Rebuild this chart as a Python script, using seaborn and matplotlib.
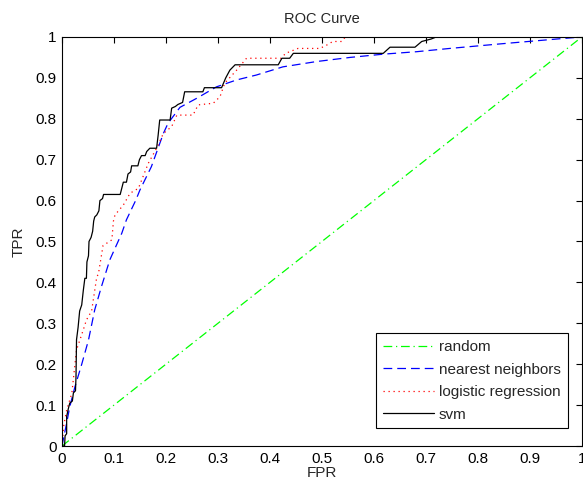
import numpy as np
import pandas as pd
import matplotlib
matplotlib.use("Agg")
import matplotlib.pyplot as plt
import seaborn as sns

# ROC points
random_fpr = [0.0, 0.5, 1.0]
random_tpr = [0.0, 0.5, 1.0]

nn_fpr = [0.0, 0.009, 0.015, 0.025, 0.038, 0.051, 0.063, 0.076, 0.092, 0.115, 0.124,
          0.142, 0.15, 0.172, 0.195, 0.204, 0.227, 0.259, 0.297, 0.336, 0.374, 0.425,
          0.49, 0.554, 0.618, 0.682, 0.746, 0.842, 0.906, 0.97, 1.0]
nn_tpr = [0.0, 0.056, 0.096, 0.145, 0.2, 0.259, 0.333, 0.39, 0.455, 0.52, 0.553,
          0.601, 0.626, 0.683, 0.764, 0.789, 0.828, 0.85, 0.878, 0.895, 0.907, 0.927,
          0.94, 0.95, 0.958, 0.964, 0.972, 0.983, 0.99, 0.997, 1.0]

lr_fpr = [0.0, 0.002, 0.003, 0.009, 0.019, 0.025, 0.028, 0.041, 0.047, 0.057, 0.067,
          0.07, 0.079, 0.096, 0.099, 0.102, 0.118, 0.131, 0.147, 0.166, 0.182, 0.195,
          0.211, 0.221, 0.252, 0.262, 0.291, 0.304, 0.313, 0.336, 0.355, 0.422, 0.43,
          0.454, 0.496, 0.509, 0.521, 0.538, 0.545, 1.0]
lr_tpr = [0.0, 0.03, 0.047, 0.088, 0.129, 0.2, 0.235, 0.284, 0.308, 0.33, 0.414,
          0.42, 0.49, 0.504, 0.55, 0.565, 0.589, 0.618, 0.63, 0.691, 0.728, 0.764,
          0.781, 0.809, 0.809, 0.834, 0.838, 0.854, 0.887, 0.919, 0.948, 0.948, 0.96,
          0.972, 0.972, 0.98, 0.989, 0.989, 1.0, 1.0]

svm_fpr = [0.0, 0.005, 0.006, 0.009, 0.009, 0.012, 0.015, 0.02, 0.022, 0.026, 0.027,
           0.028, 0.031, 0.034, 0.038, 0.041, 0.044, 0.047, 0.048, 0.051, 0.052, 0.056,
           0.059, 0.061, 0.063, 0.067, 0.071, 0.073, 0.078, 0.08, 0.112, 0.115, 0.118,
           0.124, 0.127, 0.132, 0.134, 0.146, 0.149, 0.153, 0.16, 0.163, 0.169, 0.182,
           0.185, 0.188, 0.208, 0.211, 0.218, 0.223, 0.232, 0.236, 0.271, 0.274, 0.307,
           0.315, 0.323, 0.333, 0.416, 0.423, 0.438, 0.445, 0.618, 0.631, 0.679, 0.692,
           0.71, 0.72, 1.0]
svm_tpr = [0.0, 0.0, 0.025, 0.03, 0.072, 0.09, 0.105, 0.11, 0.13, 0.135, 0.17,
           0.26, 0.29, 0.33, 0.345, 0.38, 0.41, 0.41, 0.45, 0.465, 0.5, 0.51,
           0.525, 0.55, 0.56, 0.565, 0.575, 0.6, 0.605, 0.615, 0.615, 0.63, 0.645,
           0.645, 0.665, 0.67, 0.685, 0.685, 0.7, 0.71, 0.71, 0.72, 0.728, 0.728,
           0.76, 0.797, 0.797, 0.826, 0.83, 0.835, 0.84, 0.866, 0.866, 0.876, 0.876,
           0.9, 0.919, 0.932, 0.932, 0.948, 0.948, 0.96, 0.96, 0.975, 0.975, 0.989,
           0.995, 1.0, 1.0]

tick_labels = ["0", "0.1", "0.2", "0.3", "0.4", "0.5", "0.6", "0.7", "0.8", "0.9", "1"]

sns.set_style("white")
plt.rcParams['font.family'] = ['Liberation Sans', 'DejaVu Sans']

fig = plt.figure(figsize=(5.83, 4.86), dpi=100)
ax = fig.add_axes([0.1063, 0.0823, 0.8917, 0.8416])

curves = [
    ("random", random_fpr, random_tpr, "#00ff00", (0, (7, 3, 1, 3))),
    ("nearest neighbors", nn_fpr, nn_tpr, "#0000ff", (0, (7, 4))),
    ("logistic regression", lr_fpr, lr_tpr, "#ff0000", (0, (1, 3))),
    ("svm", svm_fpr, svm_tpr, "#000000", "-"),
]
for name, fx, ty, col, ls in curves:
    df = pd.DataFrame({"FPR": fx, "TPR": ty})
    sns.lineplot(data=df, x="FPR", y="TPR", ax=ax, sort=False, estimator=None,
                 color=col, linestyle=ls, linewidth=0.9, label=name)

ax.set_xlim(0, 1)
ax.set_ylim(0, 1)
ax.set_xticks(np.arange(0, 1.01, 0.1))
ax.set_yticks(np.arange(0, 1.01, 0.1))
ax.set_xticklabels(tick_labels)
ax.set_yticklabels(tick_labels)
ax.tick_params(direction="in", length=4, width=0.8, top=True, right=True,
               labelsize=11, colors="#000000", pad=4)
for s in ax.spines.values():
    s.set_color("#000000")
    s.set_linewidth(0.8)

ax.set_title("ROC Curve", fontsize=10.5, pad=10)
ax.set_xlabel("FPR", fontsize=11, labelpad=0)
ax.set_ylabel("TPR", fontsize=11, labelpad=7)

leg = ax.legend(loc="lower right", bbox_to_anchor=(0.973, 0.043), fontsize=11,
                frameon=True, fancybox=False, framealpha=1, edgecolor="#000000",
                handlelength=3.4, borderpad=0.45, labelspacing=0.55, handletextpad=0.3,
                borderaxespad=0)
leg.get_frame().set_linewidth(0.8)

fig.savefig("out.png", dpi=100)
